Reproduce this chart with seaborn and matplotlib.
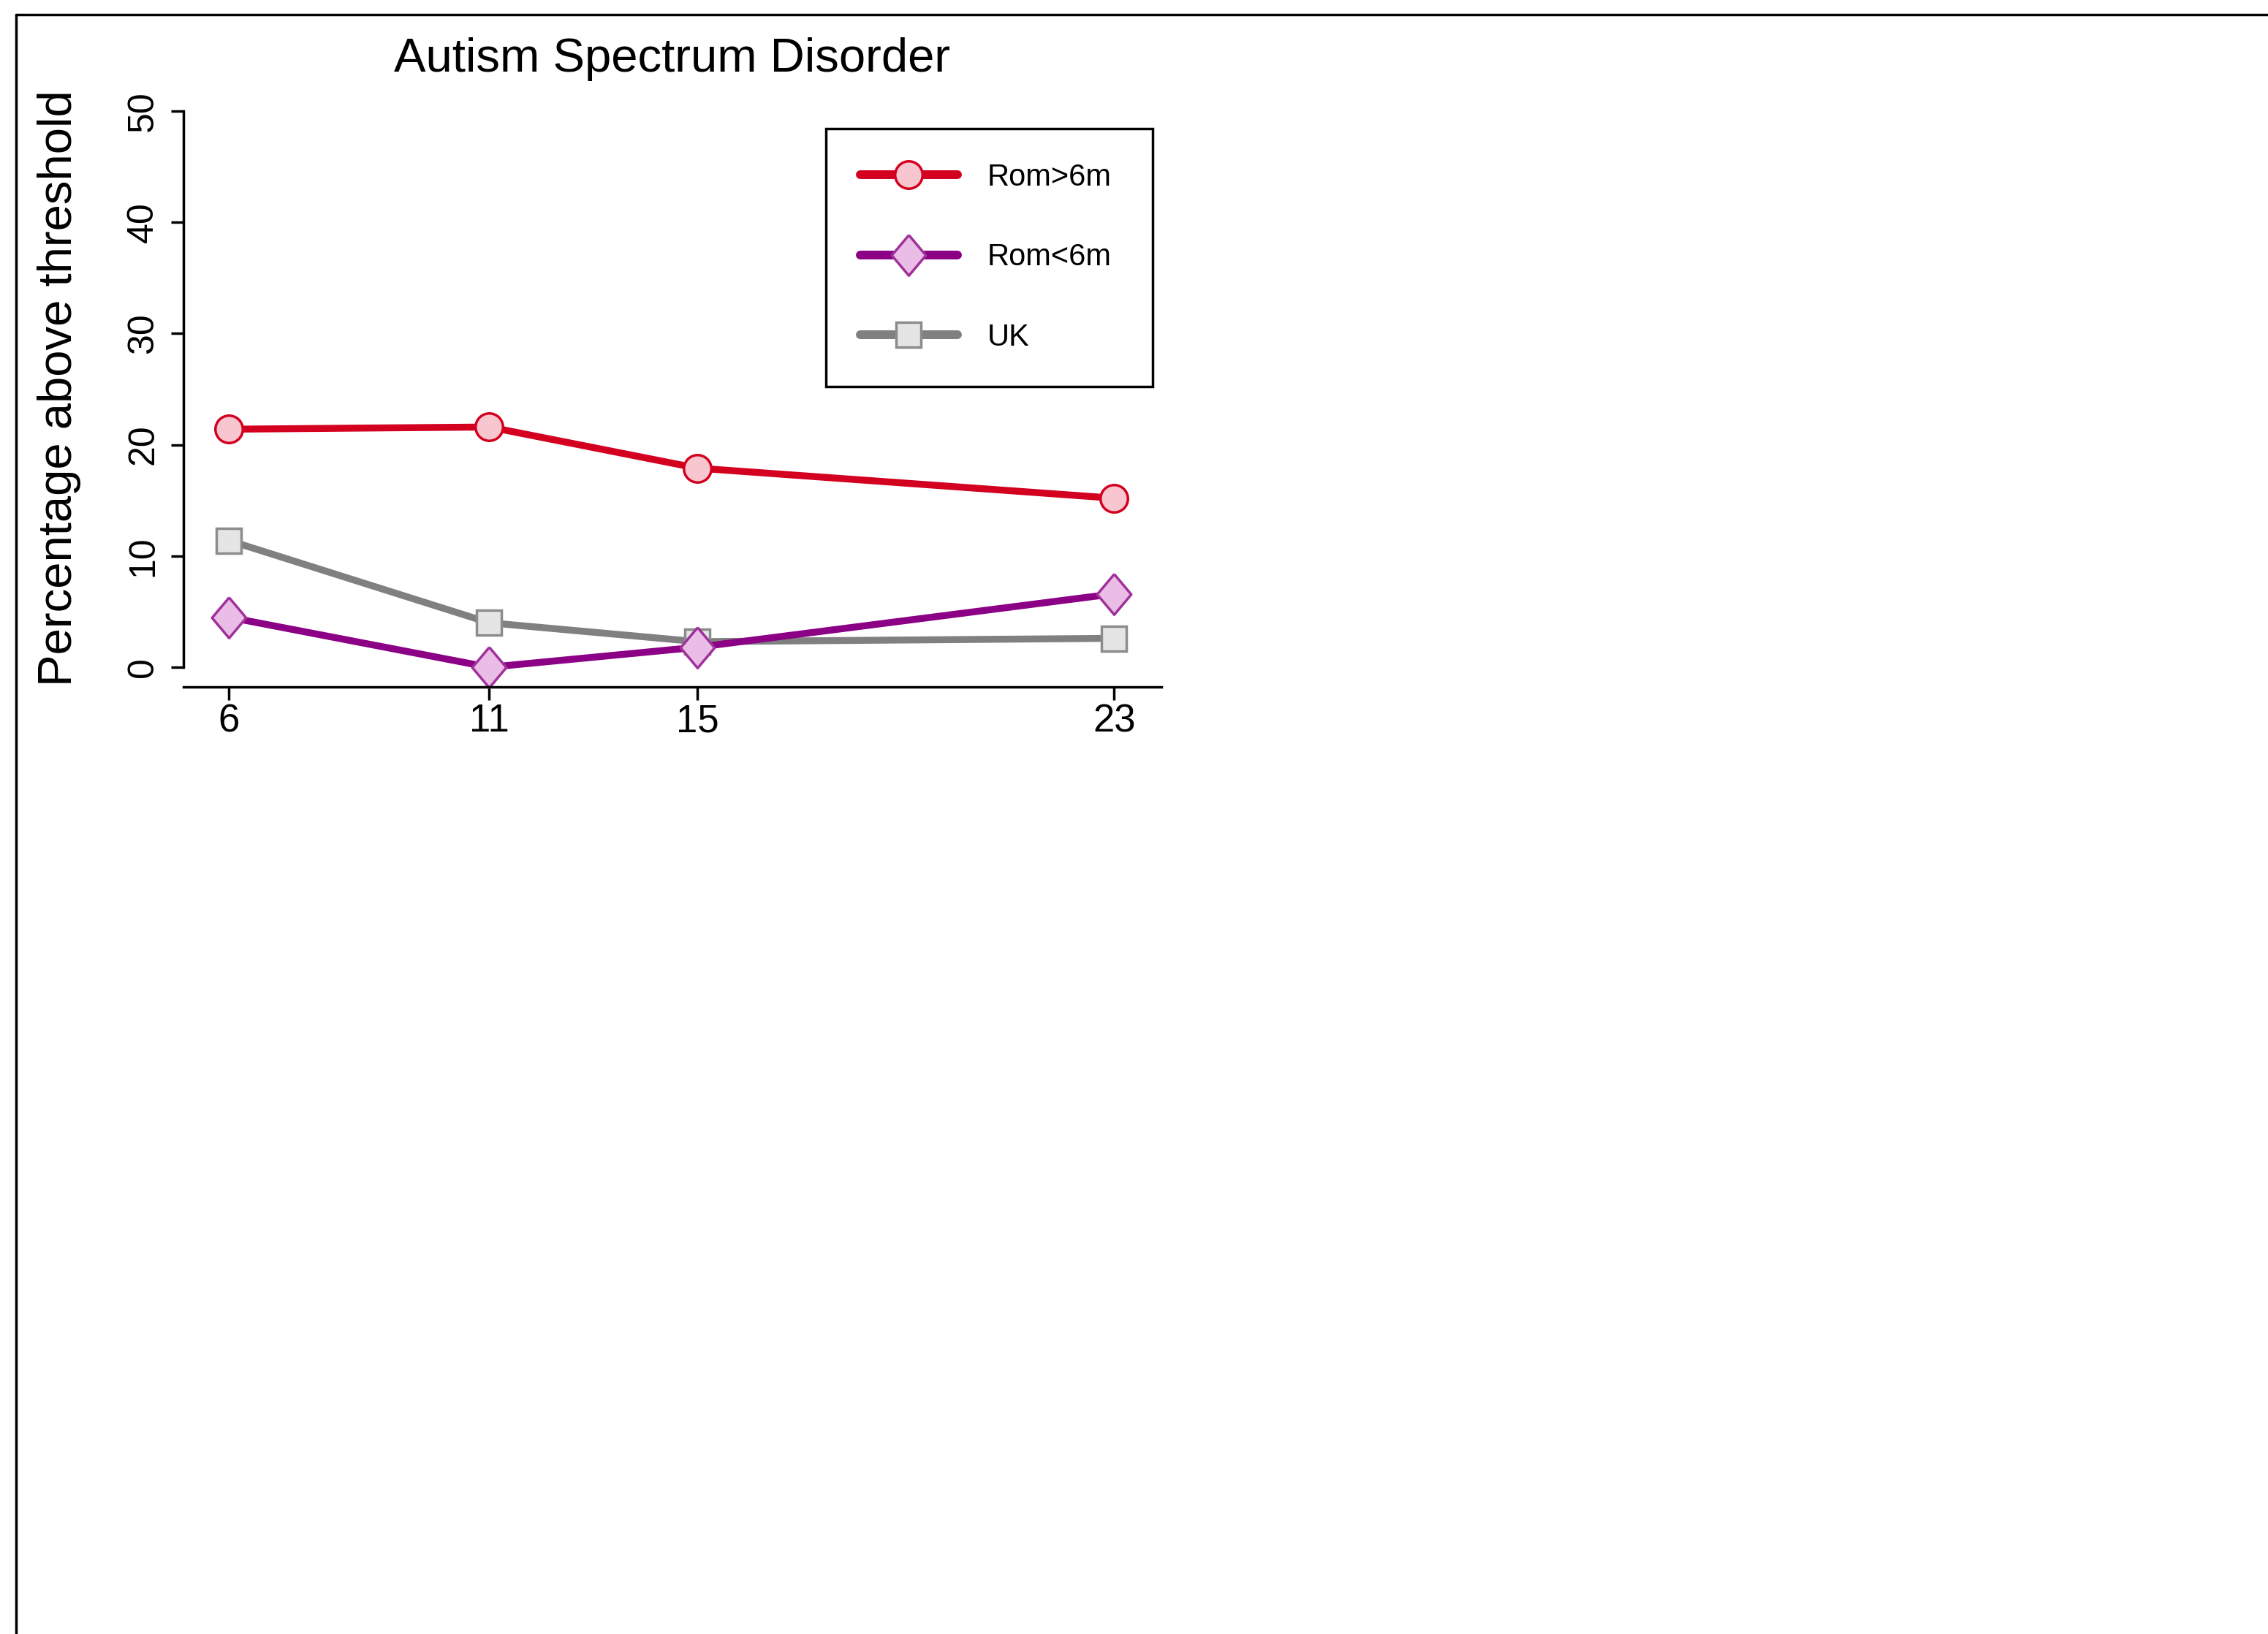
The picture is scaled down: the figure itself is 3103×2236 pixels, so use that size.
import matplotlib
matplotlib.use("Agg")
import matplotlib.pyplot as plt
from matplotlib.lines import Line2D
import seaborn as sns

# ages at assessment (years)
ages = [6, 11, 15, 23]

# percentage above threshold for each group
rom_over_6m = [21.4, 21.6, 17.9, 15.2]
rom_under_6m = [4.5, 0.0, 1.8, 6.6]
uk = [11.4, 4.0, 2.3, 2.6]

series_names = ["Rom>6m", "Rom<6m", "UK"]
y_ticks = [0, 10, 20, 30, 40, 50]

title_text = "Autism Spectrum Disorder"
ylabel_text = "Percentage above threshold"

sns.set_style("white")
plt.rcParams["font.family"] = ["Liberation Sans", "DejaVu Sans"]
plt.rcParams["text.color"] = "black"
plt.rcParams["axes.labelcolor"] = "black"

# custom diamond, a bit narrower than tall
diamond = [(0, 1), (0.84, 0), (0, -1), (-0.84, 0), (0, 1)]

styles = {
    "Rom>6m": dict(color="#d4001f", marker="o", markersize=27,
                   markerfacecolor="#f8c6cf", markeredgecolor="#d4001f"),
    "Rom<6m": dict(color="#8c0086", marker=diamond, markersize=40,
                   markerfacecolor="#e9bde6", markeredgecolor="#a0309a"),
    "UK": dict(color="#808080", marker="s", markersize=24,
               markerfacecolor="#e5e5e5", markeredgecolor="#8c8c8c"),
}
values = {"Rom>6m": rom_over_6m, "Rom<6m": rom_under_6m, "UK": uk}

fig = plt.figure(figsize=(31.03, 22.36), dpi=100)
ax = fig.add_axes([0.0809, 0.5796, 0.4312, 0.3524])

# draw order: UK underneath, then the Romanian groups
for name in ["UK", "Rom>6m", "Rom<6m"]:
    sns.lineplot(x=ages, y=values[name], ax=ax, linewidth=6.8,
                 markeredgewidth=2.5, clip_on=False, legend=False,
                 **styles[name])

ax.set_xlim(5.13, 23.91)
ax.set_ylim(-1.77, 50)
ax.set_xticks(ages)
ax.set_xticklabels([str(a) for a in ages])
ax.set_yticks(y_ticks)
ax.set_yticklabels([str(t) for t in y_ticks])

for side in ["top", "right"]:
    ax.spines[side].set_visible(False)
ax.spines["left"].set_bounds(0, 50)
for side in ["left", "bottom"]:
    ax.spines[side].set_linewidth(2.5)
    ax.spines[side].set_color("black")

ax.tick_params(axis="y", direction="out", length=12, width=2.5,
               pad=11, labelsize=36, left=True, colors="black")
ax.tick_params(axis="x", direction="out", length=13, width=2.5,
               pad=3, labelsize=38, bottom=True, colors="black")
plt.setp(ax.get_yticklabels(), rotation=90, va="center")

ax.set_title(title_text, fontsize=47, pad=39, color="black")
ax.set_ylabel(ylabel_text, fontsize=47)
ax.yaxis.set_label_coords(-0.105, 0.519)

# legend with slightly thicker lines than the plot
handles = []
for name in series_names:
    handles.append(Line2D([], [], linewidth=8.6, markeredgewidth=2.5,
                          **styles[name]))
leg = ax.legend(handles, series_names, loc="upper left",
                bbox_to_anchor=(0.657, 0.5, 0.334, 0.4695), mode="expand",
                borderaxespad=0, fontsize=30, frameon=True, fancybox=False,
                framealpha=1, edgecolor="black", handlelength=3.2,
                handletextpad=0.97, labelspacing=1.67, borderpad=1.12,
                numpoints=1)
leg.get_frame().set_linewidth(2.5)

# page border on top and left
fig.add_artist(Line2D([22 / 3103, 1], [1 - 20 / 2236, 1 - 20 / 2236],
                      transform=fig.transFigure, color="black", linewidth=2.5))
fig.add_artist(Line2D([22 / 3103, 22 / 3103], [0, 1 - 20 / 2236],
                      transform=fig.transFigure, color="black", linewidth=2.5))

fig.savefig("out.png", dpi=100, facecolor="white")
